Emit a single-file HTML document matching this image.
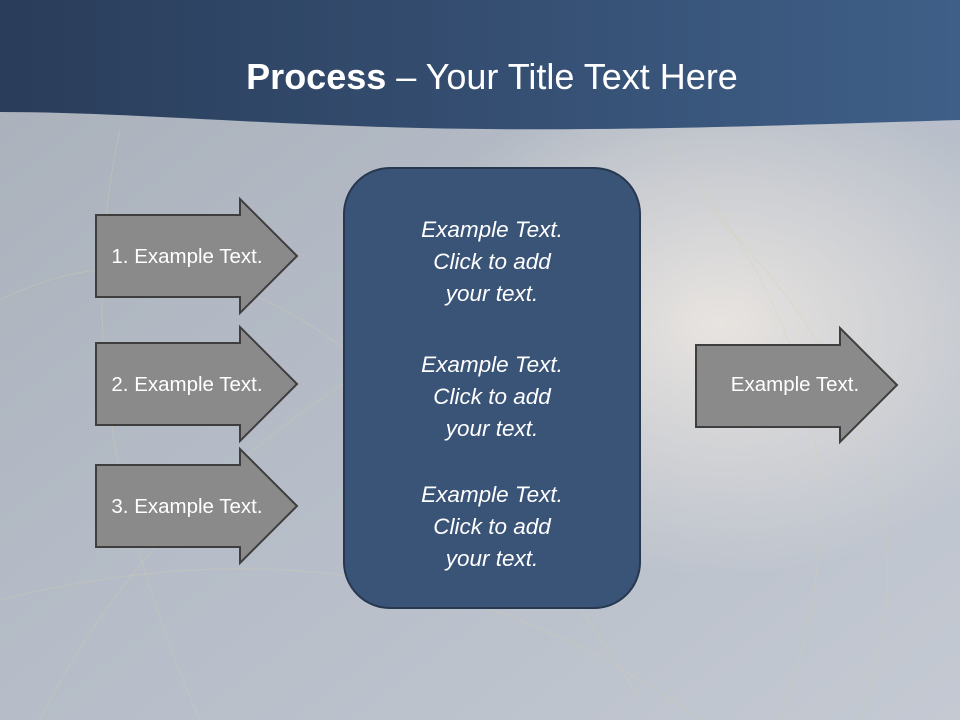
<!DOCTYPE html>
<html><head><style>
body{margin:0;width:960px;height:720px;overflow:hidden;font-family:"Liberation Sans",sans-serif;}
</style></head><body>
<svg width="960" height="720" viewBox="0 0 960 720" xmlns="http://www.w3.org/2000/svg">
<defs>
<linearGradient id="bg" x1="0" y1="0" x2="1" y2="1">
<stop offset="0" stop-color="#a9b0ba"/><stop offset="0.5" stop-color="#b6bdc8"/><stop offset="1" stop-color="#c4c9d2"/>
</linearGradient>
<radialGradient id="glow" cx="0.75" cy="0.45" r="0.35">
<stop offset="0" stop-color="#e8e4e0"/><stop offset="1" stop-color="#e8e4e0" stop-opacity="0"/>
</radialGradient>
<linearGradient id="hd" x1="0" y1="0" x2="1" y2="0">
<stop offset="0" stop-color="#2a3d5a"/><stop offset="1" stop-color="#3f5f88"/>
</linearGradient>
</defs>
<rect width="960" height="720" fill="url(#bg)"/>
<rect width="960" height="720" fill="url(#glow)"/>
<g stroke="#d8cfa8" stroke-opacity="0.35" fill="none" stroke-width="1">
<path d="M0 300 Q300 150 640 700"/><path d="M40 720 Q200 400 600 260"/><path d="M0 600 Q400 500 700 720"/>
<path d="M660 140 Q900 400 780 720"/><path d="M700 200 Q960 450 860 720"/><path d="M120 130 Q60 400 200 720"/>
</g>
<path d="M0 0 H960 V120 C760 126 600 132 420 128 C250 124 120 112 0 112 Z" fill="url(#hd)"/>
<text x="492" y="89" text-anchor="middle" fill="#fff" font-size="36" font-family="Liberation Sans, sans-serif"><tspan font-weight="bold">Process</tspan> – Your Title Text Here</text>
<g fill="#8a8a8a" stroke="#3e3e3e" stroke-width="2">
<path d="M96 215 H240 V199 L297 256 L240 313 V297 H96 Z"/>
<path d="M96 343 H240 V327 L297 384 L240 441 V425 H96 Z"/>
<path d="M96 465 H240 V449 L297 506 L240 563 V547 H96 Z"/>
<path d="M696 345 H840 V328 L897 385 L840 442 V427 H696 Z"/>
</g>
<g fill="#fff" font-size="20.5" text-anchor="middle">
<text x="187" y="263">1. Example Text.</text>
<text x="187" y="391">2. Example Text.</text>
<text x="187" y="513">3. Example Text.</text>
<text x="795" y="391">Example Text.</text>
</g>
<rect x="344" y="168" width="296" height="440" rx="46" fill="#3a5478" stroke="#263750" stroke-width="2"/>
<g fill="#fff" font-size="22.5" font-style="italic" text-anchor="middle">
<text x="492" y="237">Example Text.</text><text x="492" y="269">Click  to add</text><text x="492" y="301">your text.</text>
<text x="492" y="372">Example Text.</text><text x="492" y="404">Click  to add</text><text x="492" y="436">your text.</text>
<text x="492" y="502">Example Text.</text><text x="492" y="534">Click  to add</text><text x="492" y="566">your text.</text>
</g>
</svg>
</body></html>
